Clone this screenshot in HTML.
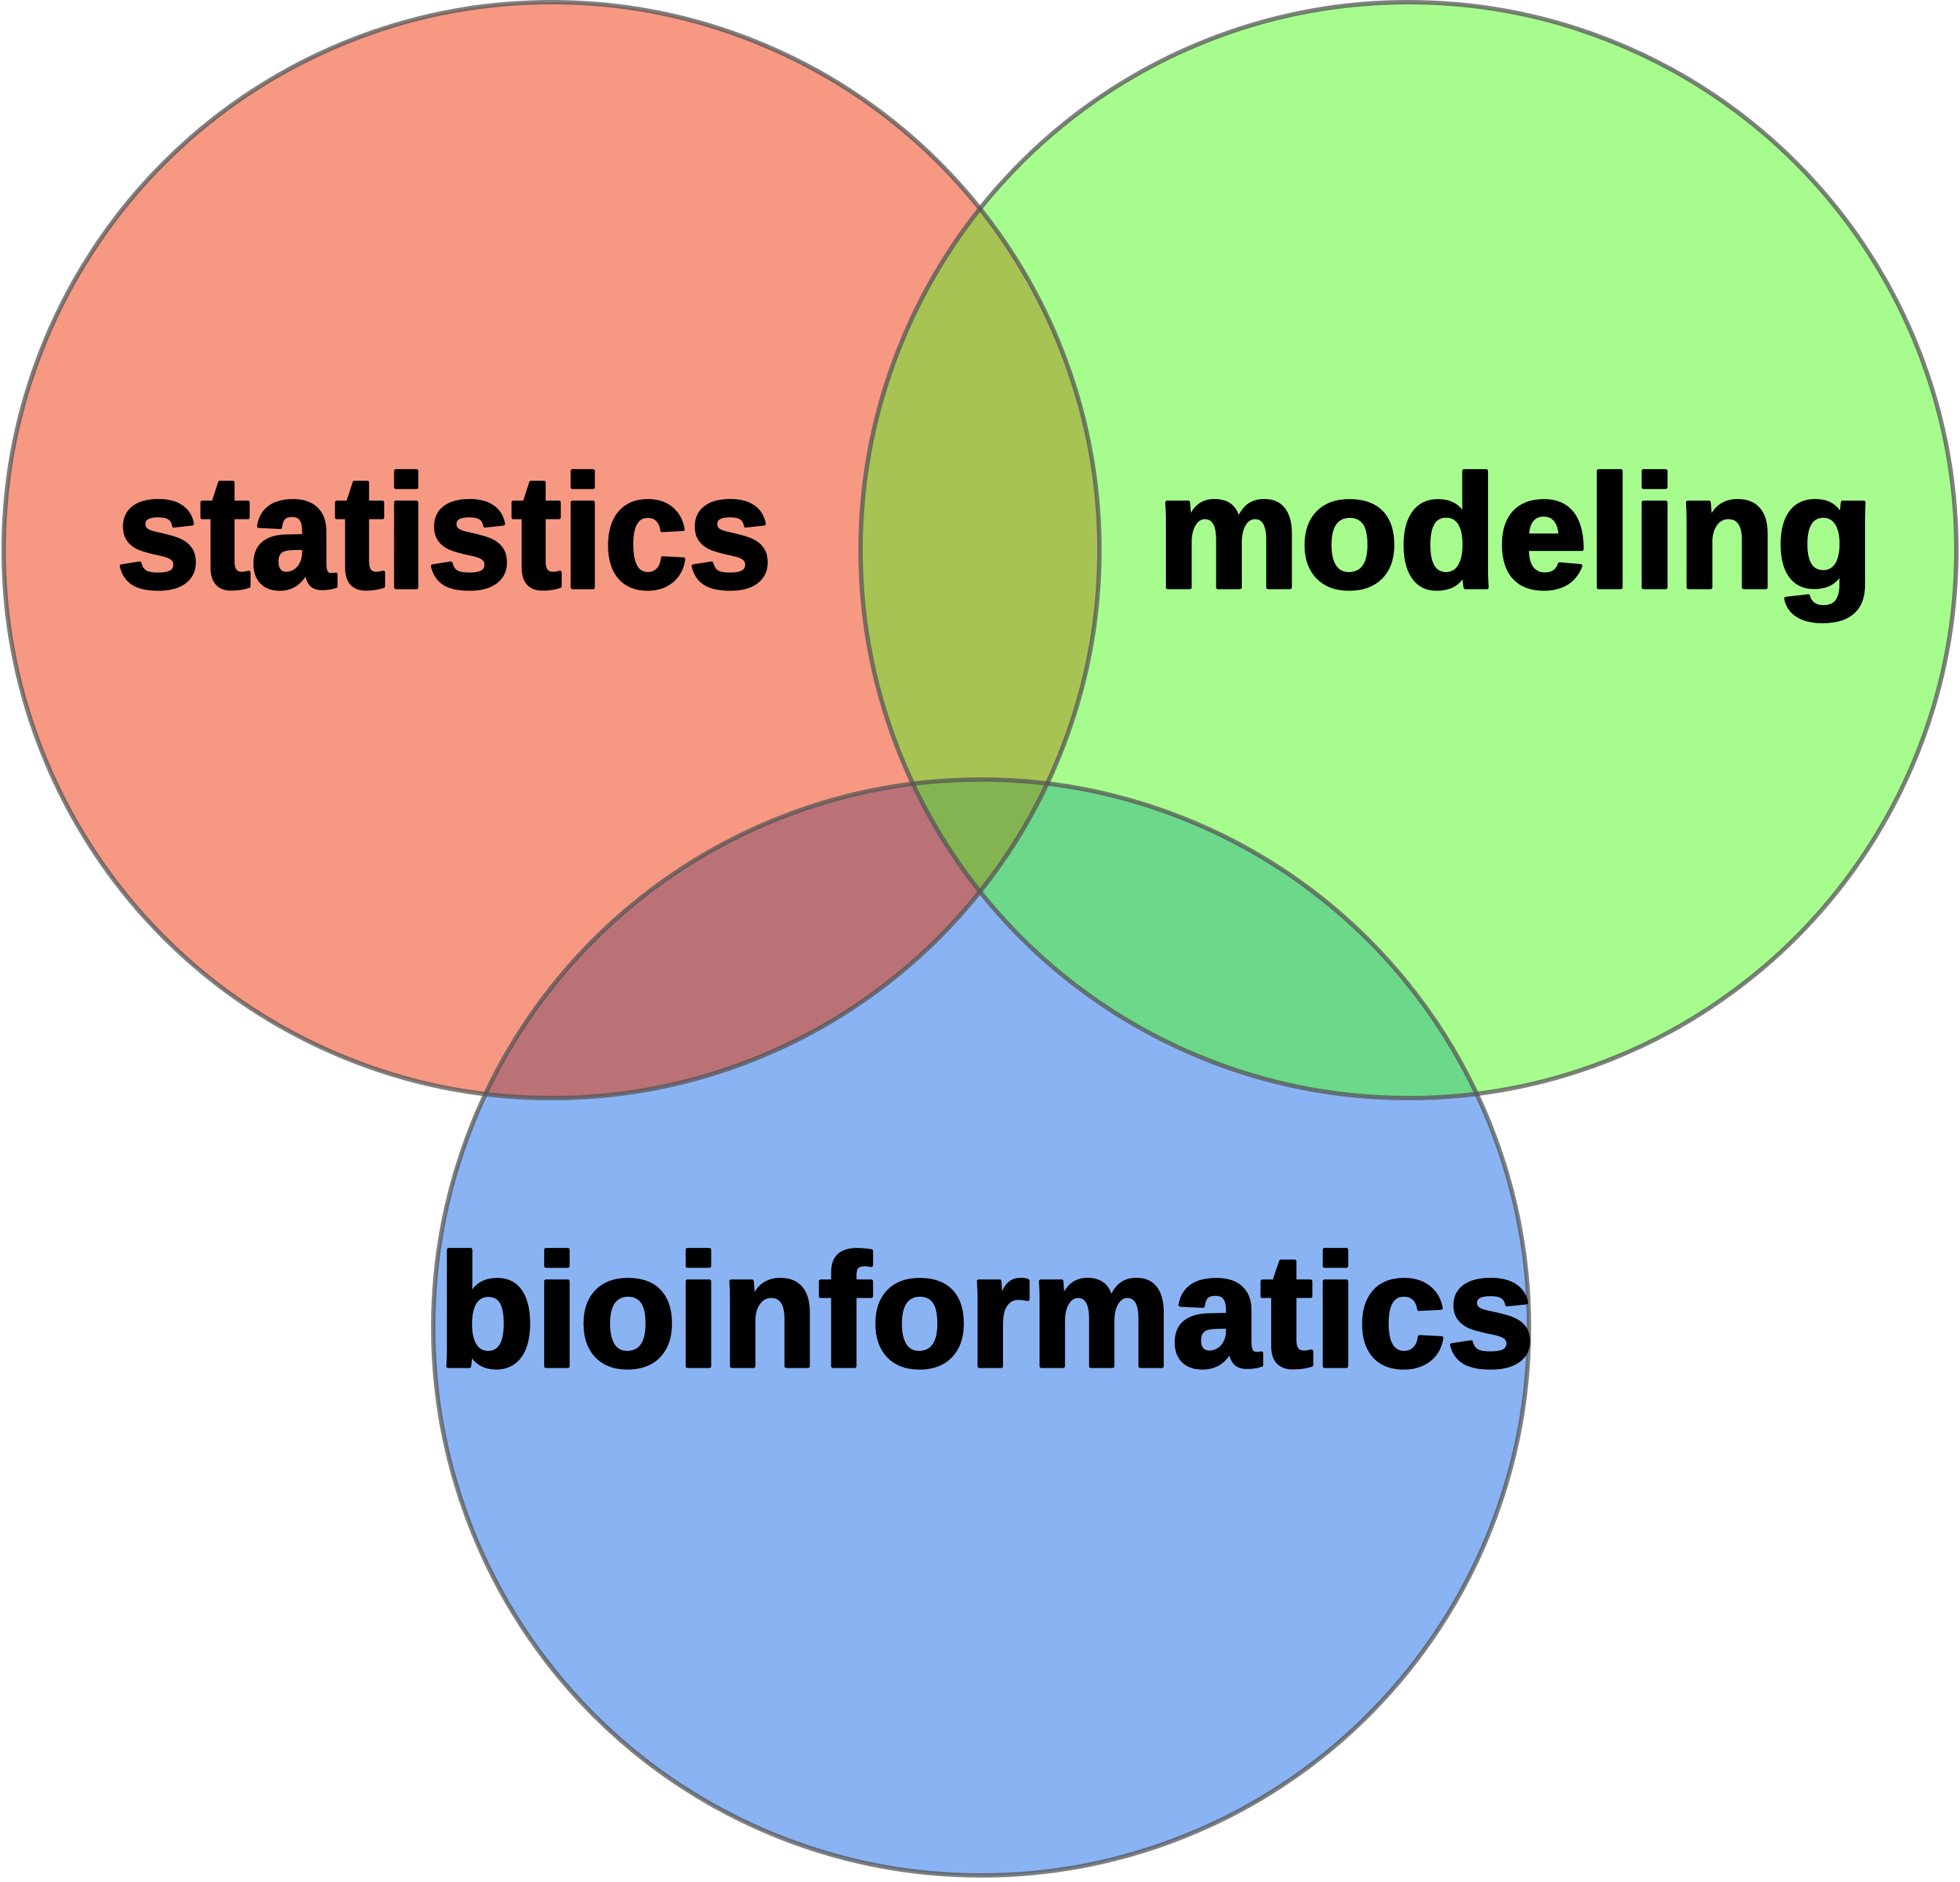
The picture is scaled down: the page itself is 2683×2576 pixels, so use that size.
<!DOCTYPE html>
<html><head><meta charset="utf-8"><style>
html,body{margin:0;padding:0;background:#fff;}
svg{display:block;}
</style></head><body>
<svg width="2683" height="2576" viewBox="0 0 2683 2576" xmlns="http://www.w3.org/2000/svg">
<defs>
<clipPath id="cr"><circle cx="755" cy="753" r="750"/></clipPath>
<clipPath id="cg"><circle cx="1928" cy="753" r="750"/></clipPath>
<clipPath id="cb"><circle cx="1343" cy="1817" r="750"/></clipPath>
</defs>
<circle cx="755" cy="753" r="750" fill="#f69882"/>
<circle cx="1928" cy="753" r="750" fill="#a6fd8e"/>
<circle cx="1343" cy="1817" r="750" fill="#8ab3f4"/>
<circle cx="1928" cy="753" r="750" fill="#a7c353" clip-path="url(#cr)"/>
<circle cx="1343" cy="1817" r="750" fill="#bb7276" clip-path="url(#cr)"/>
<circle cx="1343" cy="1817" r="750" fill="#6bd88a" clip-path="url(#cg)"/>
<g clip-path="url(#cr)"><circle cx="1343" cy="1817" r="750" fill="#84b452" clip-path="url(#cg)"/></g>
<g fill="none" stroke="#555" stroke-opacity="0.75" stroke-width="6">
<circle cx="755" cy="753" r="750"/>
<circle cx="1928" cy="753" r="750"/>
<circle cx="1343" cy="1817" r="750"/>
</g>
<g font-family="Liberation Sans, sans-serif" font-weight="bold" font-size="220" fill="#000" stroke="#000" stroke-width="5" stroke-linejoin="round">
<text x="159" y="804" textLength="898" lengthAdjust="spacingAndGlyphs">statistics</text>
<text x="1583" y="804" textLength="983" lengthAdjust="spacingAndGlyphs">modeling</text>
<text x="599" y="1870" textLength="1502" lengthAdjust="spacingAndGlyphs">bioinformatics</text>
</g>
</svg>
</body></html>
